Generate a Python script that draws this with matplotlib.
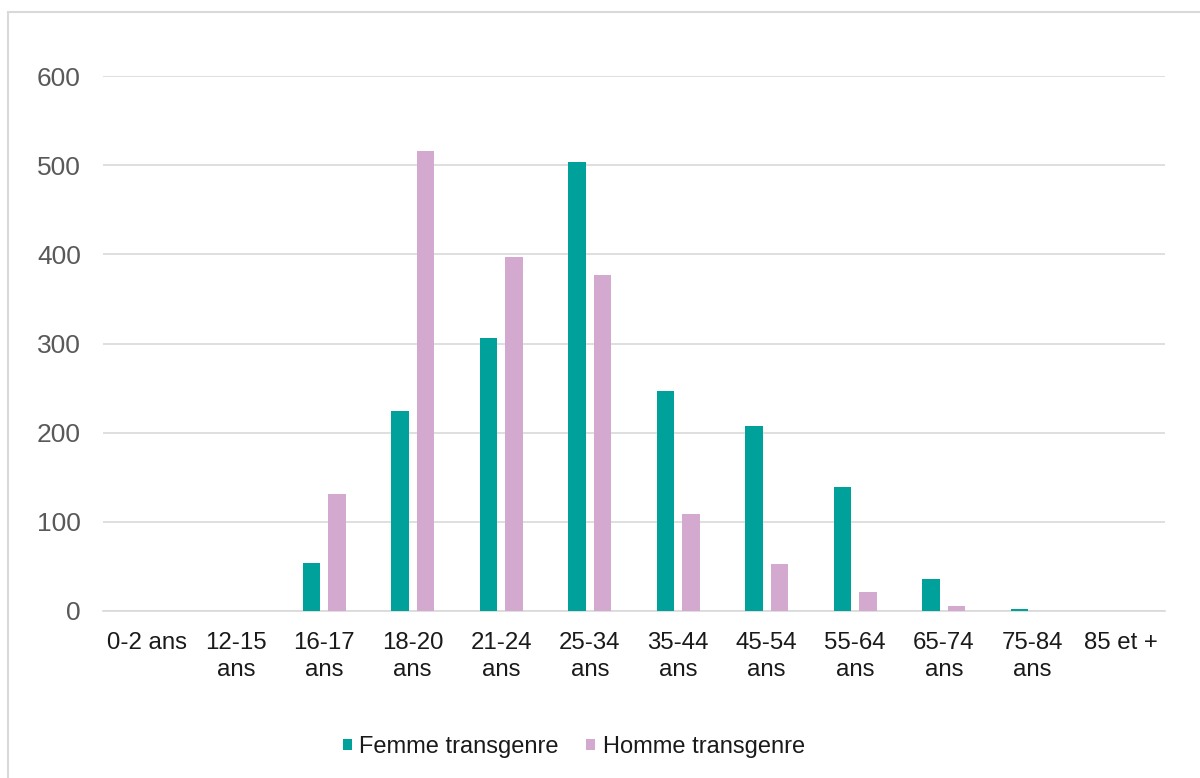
import numpy as np
import matplotlib
matplotlib.use("Agg")
import matplotlib.pyplot as plt
from matplotlib.patches import Rectangle

plt.rcParams["font.family"] = ["Liberation Sans", "DejaVu Sans"]

categories = ["0-2 ans", "12-15\nans", "16-17\nans", "18-20\nans", "21-24\nans", "25-34\nans",
              "35-44\nans", "45-54\nans", "55-64\nans", "65-74\nans", "75-84\nans", "85 et +"]
femme = [0, 0, 54, 224, 306, 504, 247, 207, 139, 36, 2, 0]
homme = [0, 0, 131, 516, 397, 377, 109, 53, 21, 6, 0, 0]
series_names = ["Femme transgenre", "Homme transgenre"]

TEAL = "#00A19A"
PINK = "#D3A9CF"
GRID = "#D9D9D9"

fig = plt.figure(figsize=(12, 7.78), dpi=100)
# chart frame (light grey border, runs off the right and bottom edges)
fig.patches.append(Rectangle((8 / 1200, -0.1), 1.2, 1 - 12 / 778 + 0.1, transform=fig.transFigure,
                             fill=False, edgecolor=GRID, lw=1.5))

ax = fig.add_axes([103 / 1200, 1 - 611 / 778, (1165 - 103) / 1200, (611 - 76) / 778])
x = np.arange(len(categories))
w = 0.2
ax.bar(x - 0.145, femme, w, color=TEAL, label=series_names[0], zorder=3)
ax.bar(x + 0.145, homme, w, color=PINK, label=series_names[1], zorder=3)

ax.set_xlim(-0.5, len(categories) - 0.5)
ax.set_ylim(0, 600)
ax.set_yticks(range(0, 601, 100))
ax.set_xticks(x)
ax.set_xticklabels(categories, fontsize=17.3, color="#1a1a1a", linespacing=1.28)
ax.tick_params(axis="y", labelsize=19, labelcolor="#595959", length=0, pad=16)
ax.tick_params(axis="x", length=0, pad=15)
ax.grid(axis="y", color=GRID, lw=1.2, zorder=0)
for s in ["top", "right", "left"]:
    ax.spines[s].set_visible(False)
ax.spines["bottom"].set_color(GRID)
ax.spines["bottom"].set_linewidth(1.2)

fig.legend(loc="center", bbox_to_anchor=(0.478, 1 - 747 / 778), ncol=2, frameon=False,
           fontsize=17, handlelength=0.38, handleheight=0.38, handletextpad=0.3,
           columnspacing=1.2, labelcolor="#1a1a1a")

fig.savefig("out.png", dpi=100)
